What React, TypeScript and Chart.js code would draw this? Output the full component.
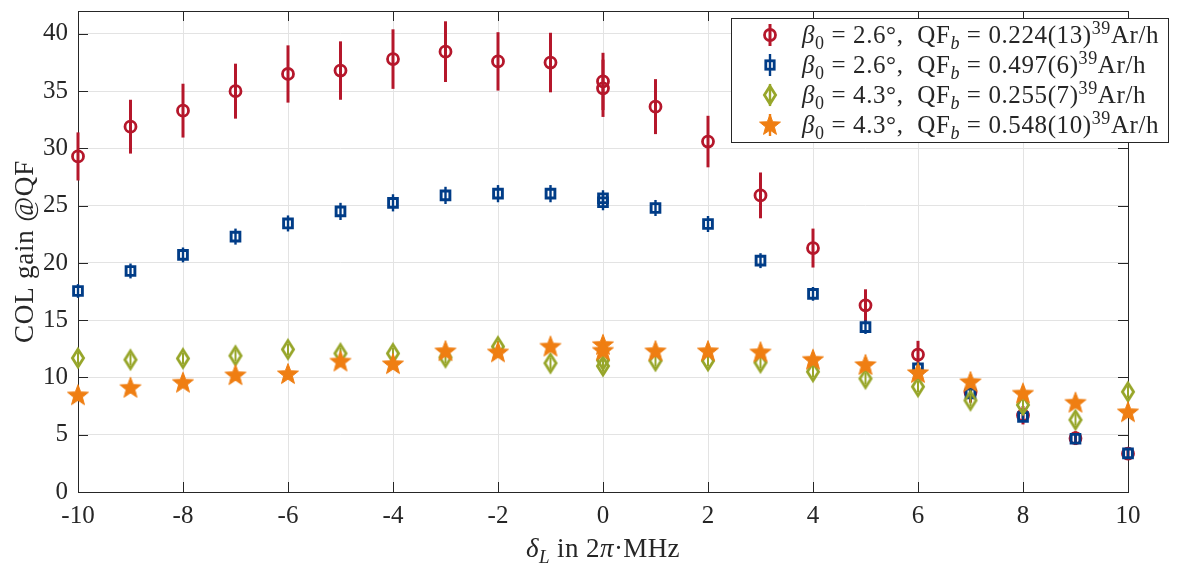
import React, { useEffect, useRef } from "react";
import { Chart, registerables } from "chart.js";

Chart.register(...registerables);

// ---------- data ----------
const detuning = [-10, -9, -8, -7, -6, -5, -4, -3, -2, -1, 0, 0, 1, 2, 3, 4, 5, 6, 7, 8, 9, 10];
const redGain = [29.3, 31.9, 33.3, 35.0, 36.5, 36.8, 37.8, 38.45, 37.6, 37.5, 35.85, 35.25, 33.65, 30.6, 25.9, 21.3, 16.3, 12.0, 8.7, 6.7, 4.7, 3.35];
const redErr = [2.1, 2.35, 2.35, 2.4, 2.5, 2.55, 2.6, 2.65, 2.55, 2.6, 2.5, 2.5, 2.4, 2.25, 2.0, 1.7, 1.4, 1.2, 0.9, 0.8, 0.6, 0.45];
const blueGain = [17.55, 19.3, 20.7, 22.3, 23.45, 24.5, 25.25, 25.9, 26.05, 26.05, 25.65, 25.3, 24.8, 23.4, 20.2, 17.3, 14.4, 10.8, 8.6, 6.55, 4.65, 3.37];
const blueErr = [0.6, 0.65, 0.65, 0.7, 0.7, 0.75, 0.75, 0.75, 0.75, 0.75, 0.7, 0.7, 0.7, 0.7, 0.65, 0.6, 0.6, 0.5, 0.45, 0.4, 0.35, 0.3];
const greenGain = [11.7, 11.55, 11.66, 11.9, 12.45, 12.1, 12.1, 11.75, 12.7, 11.25, 11.5, 11.0, 11.45, 11.45, 11.3, 10.5, 9.9, 9.2, 8.0, 7.6, 6.3, 8.75];
const greenErr = [0.5, 0.5, 0.5, 0.5, 0.5, 0.5, 0.5, 0.5, 0.5, 0.5, 0.5, 0.5, 0.5, 0.5, 0.5, 0.5, 0.5, 0.5, 0.5, 0.5, 0.5, 0.5];
const orangeGain = [8.45, 9.1, 9.55, 10.2, 10.3, 11.4, 11.17, 12.3, 12.2, 12.7, 12.85, 12.35, 12.3, 12.3, 12.2, 11.55, 11.1, 10.4, 9.6, 8.6, 7.8, 6.97];
const orangeErr = [0.4, 0.4, 0.4, 0.4, 0.4, 0.4, 0.4, 0.4, 0.4, 0.4, 0.4, 0.4, 0.4, 0.4, 0.4, 0.4, 0.4, 0.4, 0.4, 0.4, 0.4, 0.4];

const legendBeta = ["2.6", "2.6", "4.3", "4.3"];
const legendQF = ["0.224(13)", "0.497(6)", "0.255(7)", "0.548(10)"];

const xTitle = [
  { t: "δ", i: true },
  { t: "L", i: true, sub: true },
  { t: " in 2" },
  { t: "π", i: true },
  { t: "·MHz" },
];
const yTitle = "COL gain @QF";

// ---------- styles ----------
const FONT = '"Liberation Serif", "Times New Roman", serif';
const TEXT = "#262626";
const GRID = "#e3e3e3";
const RED = "#B5172B";
const BLUE = "#003C87";
const GREEN = "#97A62A";
const ORANGE = "#EF7E12";

function makeDiamond(color: string) {
  const c = document.createElement("canvas");
  c.width = 20;
  c.height = 26;
  const ctx = c.getContext("2d")!;
  ctx.strokeStyle = color;
  ctx.lineWidth = 2.8;
  ctx.lineJoin = "miter";
  ctx.beginPath();
  ctx.moveTo(10, 4.2);
  ctx.lineTo(15.6, 13);
  ctx.lineTo(10, 21.8);
  ctx.lineTo(4.4, 13);
  ctx.closePath();
  ctx.stroke();
  return c;
}

function makeStar(color: string) {
  const c = document.createElement("canvas");
  c.width = 26;
  c.height = 26;
  const ctx = c.getContext("2d")!;
  ctx.fillStyle = color;
  ctx.strokeStyle = color;
  ctx.lineWidth = 1;
  ctx.lineJoin = "miter";
  const R = 11;
  const r = 4.6;
  ctx.beginPath();
  for (let k = 0; k < 10; k++) {
    const a = -Math.PI / 2 + (k * Math.PI) / 5;
    const rad = k % 2 === 0 ? R : r;
    const px = 13 + rad * Math.cos(a);
    const py = 13.5 + rad * Math.sin(a);
    if (k === 0) ctx.moveTo(px, py);
    else ctx.lineTo(px, py);
  }
  ctx.closePath();
  ctx.fill();
  ctx.stroke();
  return c;
}

type Seg = { t: string; i?: boolean; sub?: boolean; sup?: boolean };

function segFont(s: Seg, size: number) {
  const sz = s.sub || s.sup ? Math.round(size * 0.7) : size;
  return `${s.i ? "italic " : ""}${sz}px ${FONT}`;
}

function measureRich(ctx: CanvasRenderingContext2D, segs: Seg[], size: number) {
  let w = 0;
  for (const s of segs) {
    ctx.font = segFont(s, size);
    w += ctx.measureText(s.t).width;
  }
  return w;
}

function drawRich(ctx: CanvasRenderingContext2D, x: number, y: number, segs: Seg[], size: number) {
  ctx.textAlign = "left";
  ctx.textBaseline = "alphabetic";
  for (const s of segs) {
    ctx.font = segFont(s, size);
    const dy = s.sub ? size * 0.22 : s.sup ? -size * 0.38 : 0;
    ctx.fillText(s.t, x, y + dy);
    x += ctx.measureText(s.t).width;
  }
  return x;
}

const pts = (xs: number[], ys: number[]) => xs.map((x, i) => ({ x, y: ys[i] }));

export default function App() {
  const ref = useRef<HTMLCanvasElement>(null);

  useEffect(() => {
    const canvas = ref.current!;
    const diamond = makeDiamond(GREEN);
    const star = makeStar(ORANGE);

    const errorBars = {
      id: "errorBars",
      beforeDatasetDraw(chart: any, args: any) {
        const ds = chart.data.datasets[args.index];
        if (!ds.errors) return;
        const xs = chart.scales.x;
        const ys = chart.scales.y;
        const ctx = chart.ctx;
        ctx.save();
        ctx.strokeStyle = ds.errColor;
        ctx.lineWidth = ds.errWidth;
        ctx.lineCap = "butt";
        ds.data.forEach((p: any, i: number) => {
          const e = ds.errors[i];
          const px = xs.getPixelForValue(p.x);
          ctx.beginPath();
          ctx.moveTo(px, ys.getPixelForValue(p.y - e));
          ctx.lineTo(px, ys.getPixelForValue(p.y + e));
          ctx.stroke();
        });
        ctx.restore();
      },
    };

    const frame = {
      id: "frame",
      beforeDatasetsDraw(chart: any) {
        const { ctx, chartArea: a } = chart;
        const xs = chart.scales.x;
        const ys = chart.scales.y;
        ctx.save();
        ctx.strokeStyle = TEXT;
        ctx.lineWidth = 1;
        ctx.strokeRect(Math.round(a.left) + 0.5, Math.round(a.top) + 0.5, Math.round(a.right - a.left), Math.round(a.bottom - a.top));
        const L = 10;
        ctx.beginPath();
        xs.ticks.forEach((t: any) => {
          const px = Math.round(xs.getPixelForValue(t.value)) + 0.5;
          ctx.moveTo(px, a.bottom);
          ctx.lineTo(px, a.bottom - L);
          ctx.moveTo(px, a.top);
          ctx.lineTo(px, a.top + L);
        });
        ys.ticks.forEach((t: any) => {
          const py = Math.round(ys.getPixelForValue(t.value)) + 0.5;
          ctx.moveTo(a.left, py);
          ctx.lineTo(a.left + L, py);
          ctx.moveTo(a.right, py);
          ctx.lineTo(a.right - L, py);
        });
        ctx.stroke();
        ctx.restore();
      },
    };

    const annotations = {
      id: "annotations",
      afterDraw(chart: any) {
        const { ctx, chartArea: a } = chart;
        ctx.save();
        // axis titles
        ctx.fillStyle = TEXT;
        const tsize = 27;
        (ctx as any).letterSpacing = "0.4px";
        const w = measureRich(ctx, xTitle, tsize);
        drawRich(ctx, (a.left + a.right) / 2 - w / 2, 557, xTitle, tsize);
        ctx.save();
        ctx.translate(24, (a.top + a.bottom) / 2);
        ctx.rotate(-Math.PI / 2);
        ctx.font = `${tsize}px ${FONT}`;
        (ctx as any).letterSpacing = "0.8px";
        ctx.textAlign = "center";
        ctx.textBaseline = "alphabetic";
        ctx.fillText(yTitle, 0, 9);
        ctx.restore();

        // legend
        const bx = 731, by = 18, bw = 437, bh = 124;
        ctx.fillStyle = "#ffffff";
        ctx.fillRect(bx, by, bw, bh);
        ctx.strokeStyle = TEXT;
        ctx.lineWidth = 1;
        ctx.strokeRect(bx + 0.5, by + 0.5, bw, bh);
        const mx = 770;
        const colors = [RED, BLUE, GREEN, ORANGE];
        for (let k = 0; k < 4; k++) {
          const cy = 35 + 30 * k;
          ctx.strokeStyle = colors[k];
          ctx.lineWidth = k === 0 ? 3 : 2.4;
          ctx.beginPath();
          ctx.moveTo(mx, cy - 11);
          ctx.lineTo(mx, cy + 11);
          ctx.stroke();
          if (k === 0) {
            ctx.lineWidth = 2.8;
            ctx.beginPath();
            ctx.arc(mx, cy, 5.5, 0, Math.PI * 2);
            ctx.stroke();
          } else if (k === 1) {
            ctx.lineWidth = 2.8;
            ctx.strokeRect(mx - 4.2, cy - 4.2, 8.4, 8.4);
          } else if (k === 2) {
            ctx.drawImage(diamond, mx - diamond.width / 2, cy - diamond.height / 2);
          } else {
            ctx.drawImage(star, mx - star.width / 2, cy - star.height / 2);
          }
          ctx.fillStyle = TEXT;
          (ctx as any).letterSpacing = "0.6px";
          const segs: Seg[] = [
            { t: "β", i: true },
            { t: "0", sub: true },
            { t: " = " + legendBeta[k] + "°,  QF" },
            { t: "b", i: true, sub: true },
            { t: " = " + legendQF[k] },
            { t: "39", sup: true },
            { t: "Ar/h" },
          ];
          drawRich(ctx, 802, cy + 8, segs, 25);
        }
        ctx.restore();
      },
    };

    const chart = new Chart(canvas, {
      type: "scatter",
      data: {
        datasets: [
          {
            label: "red",
            data: pts(detuning, redGain),
            errors: redErr,
            errColor: RED,
            errWidth: 3,
            pointStyle: "circle",
            pointRadius: 5.5,
            borderWidth: 2.8,
            borderColor: RED,
            backgroundColor: "rgba(0,0,0,0)",
            order: 4,
            clip: false,
          } as any,
          {
            label: "blue",
            data: pts(detuning, blueGain),
            errors: blueErr,
            errColor: BLUE,
            errWidth: 2.4,
            pointStyle: "rect",
            pointRadius: 6.2,
            borderWidth: 2.9,
            borderColor: BLUE,
            backgroundColor: "rgba(0,0,0,0)",
            order: 3,
            clip: false,
          } as any,
          {
            label: "green",
            data: pts(detuning, greenGain),
            errors: greenErr,
            errColor: GREEN,
            errWidth: 2,
            pointStyle: diamond,
            pointRadius: 10,
            borderColor: GREEN,
            backgroundColor: GREEN,
            order: 2,
            clip: false,
          } as any,
          {
            label: "orange",
            data: pts(detuning, orangeGain),
            errors: orangeErr,
            errColor: ORANGE,
            errWidth: 2,
            pointStyle: star,
            pointRadius: 10,
            borderColor: ORANGE,
            backgroundColor: ORANGE,
            order: 1,
            clip: false,
          } as any,
        ],
      },
      options: {
        responsive: false,
        animation: false,
        devicePixelRatio: 1,
        events: [],
        layout: { padding: { top: 2, right: 53, left: 0, bottom: 0 } },
        plugins: { legend: { display: false }, tooltip: { enabled: false } },
        scales: {
          x: {
            type: "linear",
            min: -10,
            max: 10,
            ticks: {
              stepSize: 2,
              includeBounds: false,
              padding: 9,
              color: TEXT,
              font: { family: FONT, size: 25 },
              maxRotation: 0,
              autoSkip: false,
            },
            grid: { color: GRID, drawTicks: false, lineWidth: 1 },
            border: { display: false },
            afterFit: (s: any) => {
              s.height = 75;
              s.paddingLeft = 0;
              s.paddingRight = 0;
            },
          },
          y: {
            type: "linear",
            min: 0,
            max: 42,
            ticks: {
              stepSize: 5,
              includeBounds: false,
              padding: 10,
              color: TEXT,
              font: { family: FONT, size: 25 },
            },
            grid: { color: GRID, drawTicks: false, lineWidth: 1 },
            border: { display: false },
            afterFit: (s: any) => {
              s.width = 78;
              s.paddingTop = 0;
              s.paddingBottom = 0;
            },
          },
        },
      } as any,
      plugins: [errorBars, frame, annotations],
    });
    return () => chart.destroy();
  }, []);

  return (
    <div style={{ position: "fixed", left: 0, top: 0, width: 1181, height: 567, background: "#fff" }}>
      <canvas ref={ref} width={1181} height={567} style={{ display: "block", width: 1181, height: 567 }} />
    </div>
  );
}
